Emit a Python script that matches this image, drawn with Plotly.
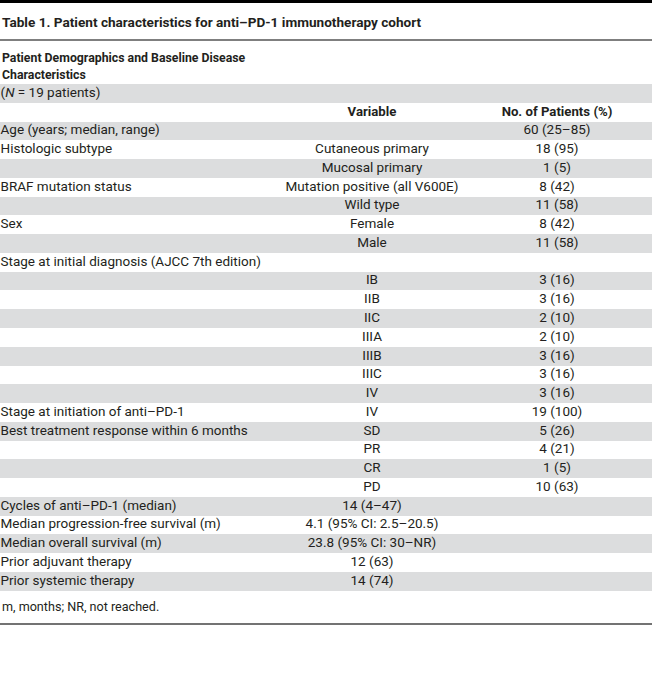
import plotly.graph_objects as go

W, H = 652, 688

title = "Table 1. Patient characteristics for anti–PD-1 immunotherapy cohort"
header_line1 = "Patient Demographics and Baseline Disease"
header_line2 = "Characteristics"
n_label = "(<i>N</i> = 19 patients)"
col_headers = ["", "Variable", "No. of Patients (%)"]
footnote = "m, months; NR, not reached."

col1 = ["Age (years; median, range)", "Histologic subtype", "", "BRAF mutation status", "", "Sex", "",
        "Stage at initial diagnosis (AJCC 7th edition)", "", "", "", "", "", "", "",
        "Stage at initiation of anti–PD-1", "Best treatment response within 6 months", "", "", "",
        "Cycles of anti–PD-1 (median)", "Median progression-free survival (m)",
        "Median overall survival (m)", "Prior adjuvant therapy", "Prior systemic therapy"]
col2 = ["", "Cutaneous primary", "Mucosal primary", "Mutation positive (all V600E)", "Wild type",
        "Female", "Male", "", "IB", "IIB", "IIC", "IIIA", "IIIB", "IIIC", "IV", "IV",
        "SD", "PR", "CR", "PD", "14 (4–47)", "4.1 (95% CI: 2.5–20.5)", "23.8 (95% CI: 30–NR)",
        "12 (63)", "14 (74)"]
col3 = ["60 (25–85)", "18 (95)", "1 (5)", "8 (42)", "11 (58)", "8 (42)", "11 (58)", "",
        "3 (16)", "3 (16)", "2 (10)", "2 (10)", "3 (16)", "3 (16)", "3 (16)", "19 (100)",
        "5 (26)", "4 (21)", "1 (5)", "10 (63)", "", "", "", "", ""]

# row index layout: 0 = N row, 1 = column header row, 2.. = data rows
ROW0_PX, PITCH = 93.5, 18.76
data_rows = list(range(2, 2 + len(col1)))
all_rows = [0, 1] + data_rows
gray_rows = [r for r in all_rows if r % 2 == 0]

FONT = "Roboto"
FS = 13.5
TXT = "#231f20"
GRAY = "#dcddde"

fig = go.Figure()

fig.add_trace(go.Bar(orientation="h", y=gray_rows, x=[W] * len(gray_rows), base=0,
                     width=1.0, marker=dict(color=GRAY, line=dict(width=0)),
                     hoverinfo="skip", showlegend=False))

X1, X2, X3 = 0.5, 372, 557
fig.add_trace(go.Scatter(x=[X1] * (len(col1) + 1), y=[0] + data_rows, text=[n_label] + col1,
                         mode="text", textposition="middle right",
                         textfont=dict(family=FONT, size=FS, color=TXT),
                         hoverinfo="skip", showlegend=False))
fig.add_trace(go.Scatter(x=[X2] * len(col2), y=data_rows, text=col2, mode="text",
                         textposition="middle center",
                         textfont=dict(family=FONT, size=FS, color=TXT),
                         hoverinfo="skip", showlegend=False))
fig.add_trace(go.Scatter(x=[X3] * len(col3), y=data_rows, text=col3, mode="text",
                         textposition="middle center",
                         textfont=dict(family=FONT, size=FS, color=TXT),
                         hoverinfo="skip", showlegend=False))
fig.add_trace(go.Scatter(x=[X2, X3], y=[1, 1], text=["<b>%s</b>" % t for t in col_headers[1:]],
                         mode="text", textposition="middle center",
                         textfont=dict(family=FONT, size=13.2, color=TXT),
                         hoverinfo="skip", showlegend=False))

def py(px):
    return 1 - px / H

annotations = [
    dict(text="<b>%s</b>" % title, x=0, y=py(22), xref="paper", yref="paper",
         xanchor="left", yanchor="middle", showarrow=False,
         font=dict(family=FONT, size=13.6, color=TXT)),
    dict(text="<b>%s</b>" % header_line1, x=0, y=py(58), xref="paper", yref="paper",
         xanchor="left", yanchor="middle", showarrow=False,
         font=dict(family=FONT, size=12.3, color=TXT)),
    dict(text="<b>%s</b>" % header_line2, x=0, y=py(75), xref="paper", yref="paper",
         xanchor="left", yanchor="middle", showarrow=False,
         font=dict(family=FONT, size=12.3, color=TXT)),
    dict(text=footnote, x=0, y=py(606), xref="paper", yref="paper",
         xanchor="left", yanchor="middle", showarrow=False,
         font=dict(family=FONT, size=12.6, color=TXT)),
]

shapes = [
    dict(type="line", xref="paper", yref="paper", x0=0, x1=1, y0=py(1.5), y1=py(1.5),
         line=dict(color="#000000", width=3)),
    dict(type="line", xref="paper", yref="paper", x0=0, x1=1, y0=py(40), y1=py(40),
         line=dict(color="#555555", width=1.3)),
    dict(type="line", xref="paper", yref="paper", x0=0, x1=1, y0=py(624), y1=py(624),
         line=dict(color="#444444", width=1.6)),
]

fig.update_layout(
    width=W, height=H, margin=dict(l=0, r=0, t=0, b=0),
    paper_bgcolor="white", plot_bgcolor="white",
    xaxis=dict(range=[0, W], visible=False, fixedrange=True),
    yaxis=dict(range=[(H - ROW0_PX) / PITCH, -ROW0_PX / PITCH], visible=False, fixedrange=True),
    annotations=annotations, shapes=shapes, bargap=0,
)

fig.write_html("out.html", config={"displayModeBar": False},
               post_script="document.body.style.margin='0px';document.body.style.overflow='hidden';")
